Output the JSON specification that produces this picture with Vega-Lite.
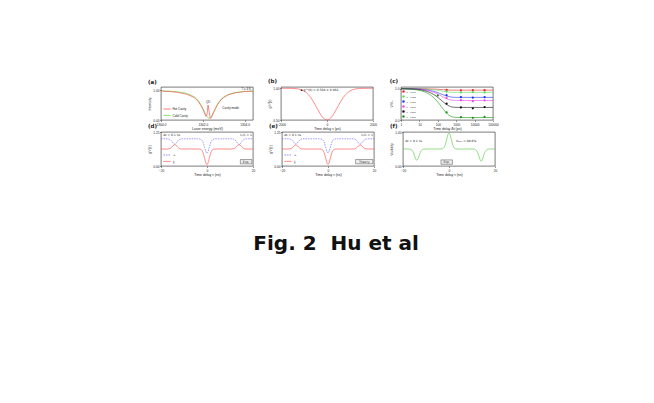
{
"$schema": "https://vega.github.io/schema/vega-lite/v6.json",
"background": "white",
"padding": {"left": 147, "top": 78, "right": 10, "bottom": 10},
"config": {
  "view": {"stroke": "#222", "strokeWidth": 0.6},
  "axis": {"grid": false, "domain": false, "tickSize": 1.5, "tickWidth": 0.5, "tickColor": "#222", "labelFont": "Liberation Sans", "labelFontSize": 3.2, "labelPadding": 0.5, "labelColor": "#222", "titleFont": "Liberation Sans", "titleFontSize": 3.5, "titleFontWeight": "normal", "titlePadding": 0.8, "titleColor": "#222", "labelOverlap": false, "labelFlush": false},
  "legend": {"labelFont": "Liberation Sans", "labelFontSize": 3, "labelColor": "#222", "padding": 0, "rowPadding": 0.4, "labelOffset": 1.5, "symbolStrokeWidth": 0.8, "titleFontSize": 3, "symbolSize": 5}
},
"title": {"text": "Fig. 2\u00a0\u00a0Hu et al", "orient": "bottom", "anchor": "middle", "frame": "bounds", "font": "DejaVu Sans", "fontSize": 20, "fontWeight": "bold", "color": "#111", "offset": 58, "dx": 13},
"datasets": {
  "a": [
    {"x":1300.0,"y":0.975,"s":"Cold Cavity"},{"x":1300.2,"y":0.962,"s":"Cold Cavity"},{"x":1300.4,"y":0.965,"s":"Cold Cavity"},{"x":1300.6,"y":0.948,"s":"Cold Cavity"},{"x":1300.8,"y":0.94,"s":"Cold Cavity"},{"x":1301.0,"y":0.915,"s":"Cold Cavity"},{"x":1301.2,"y":0.892,"s":"Cold Cavity"},{"x":1301.4,"y":0.838,"s":"Cold Cavity"},{"x":1301.6,"y":0.77,"s":"Cold Cavity"},{"x":1301.7,"y":0.705,"s":"Cold Cavity"},{"x":1301.8,"y":0.632,"s":"Cold Cavity"},{"x":1301.9,"y":0.52,"s":"Cold Cavity"},{"x":1302.0,"y":0.395,"s":"Cold Cavity"},{"x":1302.1,"y":0.238,"s":"Cold Cavity"},{"x":1302.2,"y":0.11,"s":"Cold Cavity"},{"x":1302.3,"y":0.05,"s":"Cold Cavity"},{"x":1302.4,"y":0.105,"s":"Cold Cavity"},{"x":1302.5,"y":0.245,"s":"Cold Cavity"},{"x":1302.6,"y":0.388,"s":"Cold Cavity"},{"x":1302.7,"y":0.528,"s":"Cold Cavity"},{"x":1302.8,"y":0.625,"s":"Cold Cavity"},{"x":1302.9,"y":0.712,"s":"Cold Cavity"},{"x":1303.0,"y":0.762,"s":"Cold Cavity"},{"x":1303.2,"y":0.846,"s":"Cold Cavity"},{"x":1303.4,"y":0.885,"s":"Cold Cavity"},{"x":1303.6,"y":0.921,"s":"Cold Cavity"},{"x":1303.8,"y":0.935,"s":"Cold Cavity"},{"x":1304.0,"y":0.953,"s":"Cold Cavity"},{"x":1304.2,"y":0.958,"s":"Cold Cavity"},{"x":1304.4,"y":0.968,"s":"Cold Cavity"},
    {"x":1300.0,"y":0.968,"s":"Hot Cavity"},{"x":1300.2,"y":0.955,"s":"Hot Cavity"},{"x":1300.4,"y":0.95,"s":"Hot Cavity"},{"x":1300.6,"y":0.935,"s":"Hot Cavity"},{"x":1300.8,"y":0.918,"s":"Hot Cavity"},{"x":1301.0,"y":0.895,"s":"Hot Cavity"},{"x":1301.2,"y":0.862,"s":"Hot Cavity"},{"x":1301.4,"y":0.812,"s":"Hot Cavity"},{"x":1301.6,"y":0.742,"s":"Hot Cavity"},{"x":1301.7,"y":0.68,"s":"Hot Cavity"},{"x":1301.8,"y":0.6,"s":"Hot Cavity"},{"x":1301.9,"y":0.49,"s":"Hot Cavity"},{"x":1302.0,"y":0.36,"s":"Hot Cavity"},{"x":1302.1,"y":0.2,"s":"Hot Cavity"},{"x":1302.15,"y":0.12,"s":"Hot Cavity"},{"x":1302.2,"y":0.18,"s":"Hot Cavity"},{"x":1302.25,"y":0.5,"s":"Hot Cavity"},{"x":1302.3,"y":0.3,"s":"Hot Cavity"},{"x":1302.35,"y":0.06,"s":"Hot Cavity"},{"x":1302.4,"y":0.07,"s":"Hot Cavity"},{"x":1302.5,"y":0.22,"s":"Hot Cavity"},{"x":1302.6,"y":0.37,"s":"Hot Cavity"},{"x":1302.7,"y":0.505,"s":"Hot Cavity"},{"x":1302.8,"y":0.61,"s":"Hot Cavity"},{"x":1302.9,"y":0.695,"s":"Hot Cavity"},{"x":1303.0,"y":0.75,"s":"Hot Cavity"},{"x":1303.2,"y":0.835,"s":"Hot Cavity"},{"x":1303.4,"y":0.878,"s":"Hot Cavity"},{"x":1303.6,"y":0.912,"s":"Hot Cavity"},{"x":1303.8,"y":0.93,"s":"Hot Cavity"},{"x":1304.0,"y":0.948,"s":"Hot Cavity"},{"x":1304.2,"y":0.955,"s":"Hot Cavity"},{"x":1304.4,"y":0.962,"s":"Hot Cavity"}
  ],
  "b": [
    {"x":-2000,"y":1.0},{"x":-1800,"y":0.999},{"x":-1600,"y":0.999},{"x":-1400,"y":0.996},{"x":-1200,"y":0.986},{"x":-1000,"y":0.958},{"x":-900,"y":0.932},{"x":-800,"y":0.897},{"x":-700,"y":0.851},{"x":-600,"y":0.794},{"x":-500,"y":0.73},{"x":-400,"y":0.663},{"x":-300,"y":0.6},{"x":-200,"y":0.547},{"x":-100,"y":0.512},{"x":0,"y":0.5},{"x":100,"y":0.512},{"x":200,"y":0.547},{"x":300,"y":0.6},{"x":400,"y":0.663},{"x":500,"y":0.73},{"x":600,"y":0.794},{"x":700,"y":0.851},{"x":800,"y":0.897},{"x":900,"y":0.932},{"x":1000,"y":0.958},{"x":1200,"y":0.986},{"x":1400,"y":0.996},{"x":1600,"y":0.999},{"x":1800,"y":0.999},{"x":2000,"y":1.0}
  ],
  "cfit": [
    {"x":1,"y":1.0,"s":"θ = 0.000"},{"x":4,"y":0.999,"s":"θ = 0.000"},{"x":8,"y":0.998,"s":"θ = 0.000"},{"x":20,"y":0.994,"s":"θ = 0.000"},{"x":40,"y":0.989,"s":"θ = 0.000"},{"x":80,"y":0.98,"s":"θ = 0.000"},{"x":120,"y":0.974,"s":"θ = 0.000"},{"x":200,"y":0.964,"s":"θ = 0.000"},{"x":280,"y":0.959,"s":"θ = 0.000"},{"x":400,"y":0.954,"s":"θ = 0.000"},{"x":600,"y":0.951,"s":"θ = 0.000"},{"x":800,"y":0.95,"s":"θ = 0.000"},{"x":1200,"y":0.95,"s":"θ = 0.000"},{"x":4000,"y":0.95,"s":"θ = 0.000"},{"x":100000,"y":0.95,"s":"θ = 0.000"},
    {"x":1,"y":0.999,"s":"θ = 0.025"},{"x":4,"y":0.997,"s":"θ = 0.025"},{"x":8,"y":0.994,"s":"θ = 0.025"},{"x":20,"y":0.986,"s":"θ = 0.025"},{"x":40,"y":0.973,"s":"θ = 0.025"},{"x":80,"y":0.953,"s":"θ = 0.025"},{"x":120,"y":0.937,"s":"θ = 0.025"},{"x":200,"y":0.914,"s":"θ = 0.025"},{"x":280,"y":0.901,"s":"θ = 0.025"},{"x":400,"y":0.89,"s":"θ = 0.025"},{"x":600,"y":0.883,"s":"θ = 0.025"},{"x":800,"y":0.881,"s":"θ = 0.025"},{"x":1200,"y":0.88,"s":"θ = 0.025"},{"x":4000,"y":0.88,"s":"θ = 0.025"},{"x":100000,"y":0.88,"s":"θ = 0.025"},
    {"x":1,"y":0.998,"s":"θ = 0.050"},{"x":4,"y":0.993,"s":"θ = 0.050"},{"x":8,"y":0.986,"s":"θ = 0.050"},{"x":20,"y":0.967,"s":"θ = 0.050"},{"x":40,"y":0.938,"s":"θ = 0.050"},{"x":80,"y":0.89,"s":"θ = 0.050"},{"x":120,"y":0.852,"s":"θ = 0.050"},{"x":200,"y":0.8,"s":"θ = 0.050"},{"x":280,"y":0.769,"s":"θ = 0.050"},{"x":400,"y":0.743,"s":"θ = 0.050"},{"x":600,"y":0.726,"s":"θ = 0.050"},{"x":800,"y":0.722,"s":"θ = 0.050"},{"x":1200,"y":0.72,"s":"θ = 0.050"},{"x":4000,"y":0.72,"s":"θ = 0.050"},{"x":100000,"y":0.72,"s":"θ = 0.050"},
    {"x":1,"y":0.998,"s":"θ = 0.100"},{"x":4,"y":0.991,"s":"θ = 0.100"},{"x":8,"y":0.981,"s":"θ = 0.100"},{"x":20,"y":0.955,"s":"θ = 0.100"},{"x":40,"y":0.916,"s":"θ = 0.100"},{"x":80,"y":0.85,"s":"θ = 0.100"},{"x":120,"y":0.799,"s":"θ = 0.100"},{"x":200,"y":0.729,"s":"θ = 0.100"},{"x":280,"y":0.686,"s":"θ = 0.100"},{"x":400,"y":0.651,"s":"θ = 0.100"},{"x":600,"y":0.629,"s":"θ = 0.100"},{"x":800,"y":0.623,"s":"θ = 0.100"},{"x":1200,"y":0.62,"s":"θ = 0.100"},{"x":4000,"y":0.62,"s":"θ = 0.100"},{"x":100000,"y":0.62,"s":"θ = 0.100"},
    {"x":1,"y":0.996,"s":"θ = 0.200"},{"x":4,"y":0.985,"s":"θ = 0.200"},{"x":8,"y":0.971,"s":"θ = 0.200"},{"x":20,"y":0.929,"s":"θ = 0.200"},{"x":40,"y":0.867,"s":"θ = 0.200"},{"x":80,"y":0.764,"s":"θ = 0.200"},{"x":120,"y":0.683,"s":"θ = 0.200"},{"x":200,"y":0.572,"s":"θ = 0.200"},{"x":280,"y":0.504,"s":"θ = 0.200"},{"x":400,"y":0.449,"s":"θ = 0.200"},{"x":600,"y":0.414,"s":"θ = 0.200"},{"x":800,"y":0.404,"s":"θ = 0.200"},{"x":1200,"y":0.401,"s":"θ = 0.200"},{"x":4000,"y":0.4,"s":"θ = 0.200"},{"x":100000,"y":0.4,"s":"θ = 0.200"},
    {"x":1,"y":0.994,"s":"θ = 0.500"},{"x":4,"y":0.977,"s":"θ = 0.500"},{"x":8,"y":0.955,"s":"θ = 0.500"},{"x":20,"y":0.892,"s":"θ = 0.500"},{"x":40,"y":0.797,"s":"θ = 0.500"},{"x":80,"y":0.638,"s":"θ = 0.500"},{"x":120,"y":0.514,"s":"θ = 0.500"},{"x":200,"y":0.344,"s":"θ = 0.500"},{"x":280,"y":0.24,"s":"θ = 0.500"},{"x":400,"y":0.155,"s":"θ = 0.500"},{"x":600,"y":0.101,"s":"θ = 0.500"},{"x":800,"y":0.086,"s":"θ = 0.500"},{"x":1200,"y":0.081,"s":"θ = 0.500"},{"x":4000,"y":0.08,"s":"θ = 0.500"},{"x":100000,"y":0.08,"s":"θ = 0.500"}
  ],
  "cpts": [
    {"x":300,"y":0.955,"s":"θ = 0.000"},{"x":1800,"y":0.945,"s":"θ = 0.000"},{"x":8000,"y":0.952,"s":"θ = 0.000"},{"x":35000,"y":0.948,"s":"θ = 0.000"},
    {"x":300,"y":0.905,"s":"θ = 0.025"},{"x":1800,"y":0.875,"s":"θ = 0.025"},{"x":8000,"y":0.885,"s":"θ = 0.025"},{"x":35000,"y":0.878,"s":"θ = 0.025"},
    {"x":300,"y":0.79,"s":"θ = 0.050"},{"x":1800,"y":0.725,"s":"θ = 0.050"},{"x":8000,"y":0.71,"s":"θ = 0.050"},{"x":35000,"y":0.725,"s":"θ = 0.050"},
    {"x":300,"y":0.7,"s":"θ = 0.100"},{"x":1800,"y":0.63,"s":"θ = 0.100"},{"x":8000,"y":0.6,"s":"θ = 0.100"},{"x":35000,"y":0.625,"s":"θ = 0.100"},
    {"x":300,"y":0.52,"s":"θ = 0.200"},{"x":1800,"y":0.4,"s":"θ = 0.200"},{"x":8000,"y":0.37,"s":"θ = 0.200"},{"x":35000,"y":0.41,"s":"θ = 0.200"},
    {"x":100,"y":0.78,"s":"θ = 0.500"},{"x":300,"y":0.24,"s":"θ = 0.500"},{"x":1800,"y":0.09,"s":"θ = 0.500"},{"x":8000,"y":0.07,"s":"θ = 0.500"},{"x":35000,"y":0.1,"s":"θ = 0.500"}
  ],
  "def": [
    {"x":-20,"dp":0.998,"dr":0.628,"tp":1.0,"tr":0.625,"v":0.5},
    {"x":-18,"dp":1.004,"dr":0.622,"tp":1.0,"tr":0.625,"v":0.502},
    {"x":-17,"dp":0.995,"dr":0.626,"tp":0.998,"tr":0.627,"v":0.496},
    {"x":-16.5,"dp":0.99,"dr":0.635,"tp":0.992,"tr":0.632,"v":0.486},
    {"x":-16,"dp":0.97,"dr":0.648,"tp":0.974,"tr":0.645,"v":0.456},
    {"x":-15.5,"dp":0.93,"dr":0.68,"tp":0.938,"tr":0.674,"v":0.395},
    {"x":-15,"dp":0.875,"dr":0.725,"tp":0.885,"tr":0.716,"v":0.302},
    {"x":-14.5,"dp":0.82,"dr":0.765,"tp":0.832,"tr":0.757,"v":0.21},
    {"x":-14,"dp":0.8,"dr":0.782,"tp":0.81,"tr":0.775,"v":0.17},
    {"x":-13.5,"dp":0.825,"dr":0.76,"tp":0.832,"tr":0.757,"v":0.212},
    {"x":-13,"dp":0.88,"dr":0.72,"tp":0.885,"tr":0.716,"v":0.3},
    {"x":-12.5,"dp":0.935,"dr":0.676,"tp":0.938,"tr":0.674,"v":0.392},
    {"x":-12,"dp":0.97,"dr":0.646,"tp":0.974,"tr":0.645,"v":0.455},
    {"x":-11.5,"dp":0.99,"dr":0.63,"tp":0.992,"tr":0.632,"v":0.485},
    {"x":-11,"dp":1.002,"dr":0.624,"tp":0.998,"tr":0.627,"v":0.497},
    {"x":-9,"dp":0.997,"dr":0.627,"tp":1.0,"tr":0.625,"v":0.501},
    {"x":-6,"dp":1.003,"dr":0.623,"tp":1.0,"tr":0.625,"v":0.499},
    {"x":-4,"dp":0.998,"dr":0.626,"tp":1.0,"tr":0.625,"v":0.502},
    {"x":-3,"dp":0.99,"dr":0.617,"tp":0.994,"tr":0.619,"v":0.505},
    {"x":-2.5,"dp":0.972,"dr":0.596,"tp":0.977,"tr":0.6,"v":0.521},
    {"x":-2,"dp":0.92,"dr":0.54,"tp":0.93,"tr":0.549,"v":0.563},
    {"x":-1.5,"dp":0.82,"dr":0.43,"tp":0.831,"tr":0.441,"v":0.653},
    {"x":-1,"dp":0.67,"dr":0.27,"tp":0.684,"tr":0.282,"v":0.785},
    {"x":-0.5,"dp":0.53,"dr":0.12,"tp":0.541,"tr":0.127,"v":0.915},
    {"x":0,"dp":0.47,"dr":0.05,"tp":0.48,"tr":0.06,"v":0.97},
    {"x":0.5,"dp":0.535,"dr":0.125,"tp":0.541,"tr":0.127,"v":0.912},
    {"x":1,"dp":0.68,"dr":0.29,"tp":0.684,"tr":0.282,"v":0.78},
    {"x":1.5,"dp":0.825,"dr":0.445,"tp":0.831,"tr":0.441,"v":0.65},
    {"x":2,"dp":0.925,"dr":0.552,"tp":0.93,"tr":0.549,"v":0.56},
    {"x":2.5,"dp":0.975,"dr":0.603,"tp":0.977,"tr":0.6,"v":0.52},
    {"x":3,"dp":0.992,"dr":0.62,"tp":0.994,"tr":0.619,"v":0.505},
    {"x":4,"dp":1.002,"dr":0.624,"tp":1.0,"tr":0.625,"v":0.5},
    {"x":6,"dp":0.997,"dr":0.627,"tp":1.0,"tr":0.625,"v":0.498},
    {"x":9,"dp":1.003,"dr":0.623,"tp":1.0,"tr":0.625,"v":0.502},
    {"x":11,"dp":0.996,"dr":0.628,"tp":0.998,"tr":0.627,"v":0.496},
    {"x":11.5,"dp":0.99,"dr":0.636,"tp":0.992,"tr":0.632,"v":0.483},
    {"x":12,"dp":0.968,"dr":0.65,"tp":0.974,"tr":0.645,"v":0.45},
    {"x":12.5,"dp":0.93,"dr":0.68,"tp":0.938,"tr":0.674,"v":0.385},
    {"x":13,"dp":0.87,"dr":0.722,"tp":0.885,"tr":0.716,"v":0.29},
    {"x":13.5,"dp":0.815,"dr":0.765,"tp":0.832,"tr":0.757,"v":0.19},
    {"x":14,"dp":0.79,"dr":0.785,"tp":0.81,"tr":0.775,"v":0.14},
    {"x":14.5,"dp":0.82,"dr":0.762,"tp":0.832,"tr":0.757,"v":0.19},
    {"x":15,"dp":0.878,"dr":0.718,"tp":0.885,"tr":0.716,"v":0.29},
    {"x":15.5,"dp":0.935,"dr":0.676,"tp":0.938,"tr":0.674,"v":0.385},
    {"x":16,"dp":0.972,"dr":0.646,"tp":0.974,"tr":0.645,"v":0.45},
    {"x":16.5,"dp":0.99,"dr":0.631,"tp":0.992,"tr":0.632,"v":0.483},
    {"x":17,"dp":0.998,"dr":0.626,"tp":0.998,"tr":0.627,"v":0.496},
    {"x":18,"dp":1.002,"dr":0.624,"tp":1.0,"tr":0.625,"v":0.5},
    {"x":20,"dp":0.999,"dr":0.627,"tp":1.0,"tr":0.625,"v":0.5}
  ]
},
"spacing": -7,
"resolve": {"scale": {"color": "independent", "shape": "independent", "strokeDash": "independent"}, "legend": {"color": "independent", "shape": "independent", "strokeDash": "independent"}},
"vconcat": [
  {"hconcat": [
    {"width": 92, "height": 33,
     "title": {"text": "(a)", "anchor": "start", "frame": "bounds", "font": "DejaVu Sans", "fontSize": 5.5, "fontWeight": "bold", "offset": 2, "color": "#222"},
     "layer": [
      {"data": {"name": "a"}, "transform": [{"filter": "datum.s == 'Cold Cavity'"}], "mark": {"type": "line", "strokeWidth": 0.7},
       "encoding": {
        "x": {"field": "x", "type": "quantitative", "scale": {"domain": [1300, 1304.4], "nice": false, "zero": false}, "axis": {"title": "Laser energy (meV)", "values": [1300, 1302, 1304], "format": ".1f", "labelOverlap": false}},
        "y": {"field": "y", "type": "quantitative", "scale": {"domain": [0, 1.1], "nice": false}, "axis": {"title": "Intensity", "values": [0, 0.2, 0.4, 0.6, 0.8, 1.0], "format": ".2f", "labelOverlap": false}},
        "color": {"field": "s", "type": "nominal", "scale": {"domain": ["Hot Cavity", "Cold Cavity"], "range": ["#ff5555", "#66dd44"]}, "legend": {"orient": "bottom-left", "title": null, "symbolType": "stroke", "symbolSize": 50, "offset": 2}}
       }},
      {"data": {"name": "a"}, "transform": [{"filter": "datum.s == 'Hot Cavity'"}], "mark": {"type": "line", "strokeWidth": 0.7},
       "encoding": {
        "x": {"field": "x", "type": "quantitative"},
        "y": {"field": "y", "type": "quantitative"},
        "color": {"field": "s", "type": "nominal"}
       }},
      {"data": {"values": [{}]}, "mark": {"type": "text", "fontSize": 3, "font": "Liberation Sans", "align": "right", "color": "#222"}, "encoding": {"x": {"datum": 1304.3}, "y": {"datum": 1.03}, "text": {"value": "T = 4 K"}}},
      {"data": {"values": [{}]}, "mark": {"type": "text", "fontSize": 2.8, "font": "Liberation Sans", "align": "center", "color": "#222"}, "encoding": {"x": {"datum": 1302.25}, "y": {"datum": 0.62}, "text": {"value": "QD"}}},
      {"data": {"values": [{}]}, "mark": {"type": "text", "fontSize": 3, "font": "Liberation Sans", "align": "left", "color": "#222"}, "encoding": {"x": {"datum": 1302.75}, "y": {"datum": 0.4}, "text": {"value": "← Cavity mode"}}}
     ]},
    {"width": 92, "height": 33,
     "title": {"text": "(b)", "anchor": "start", "frame": "bounds", "font": "DejaVu Sans", "fontSize": 5.5, "fontWeight": "bold", "offset": 2, "color": "#222"},
     "layer": [
      {"data": {"name": "b"}, "mark": {"type": "line", "strokeWidth": 0.7, "color": "#ff5a5a", "interpolate": "monotone"},
       "encoding": {
        "x": {"field": "x", "type": "quantitative", "scale": {"domain": [-2000, 2000], "nice": false}, "axis": {"title": "Time delay τ (ps)", "values": [-2000, -1000, 0, 1000, 2000], "format": "d", "labelOverlap": false}},
        "y": {"field": "y", "type": "quantitative", "scale": {"domain": [0.5, 1.02], "nice": false, "zero": false}, "axis": {"title": "g⁽²⁾(τ)", "values": [0.5, 0.6, 0.7, 0.8, 0.9, 1.0], "format": ".2f", "labelOverlap": false}}
       }},
      {"data": {"values": [{}]}, "mark": {"type": "text", "fontSize": 3, "font": "DejaVu Sans", "align": "left", "color": "#222"}, "encoding": {"x": {"datum": -1150}, "y": {"datum": 0.975}, "text": {"value": "▪ g⁽²⁾(0) = 0.508 ± 0.002"}}}
     ]},
    {"width": 92, "height": 33,
     "title": {"text": "(c)", "anchor": "start", "frame": "bounds", "font": "DejaVu Sans", "fontSize": 5.5, "fontWeight": "bold", "offset": 2, "color": "#222"},
     "layer": [
      {"data": {"name": "cpts"}, "mark": {"type": "point", "size": 5, "filled": true, "opacity": 1},
       "encoding": {
        "x": {"field": "x", "type": "quantitative", "scale": {"type": "log", "domain": [1, 100000], "nice": false}, "axis": {"title": "Time delay Δt (ps)", "values": [1, 10, 100, 1000, 10000, 100000], "format": "d", "labelOverlap": false}},
        "y": {"field": "y", "type": "quantitative", "scale": {"domain": [0, 1.05], "nice": false}, "axis": {"title": "V/V₀", "values": [0, 0.2, 0.4, 0.6, 0.8, 1.0], "format": ".1f", "labelOverlap": false}},
        "color": {"field": "s", "type": "nominal", "scale": {"domain": ["θ = 0.000", "θ = 0.025", "θ = 0.050", "θ = 0.100", "θ = 0.200", "θ = 0.500"], "range": ["#ee2222", "#55dd55", "#2233ee", "#ee44ee", "#111111", "#119911"]}, "legend": {"orient": "bottom-left", "title": null, "offset": 1, "symbolSize": 5, "labelFontSize": 2.2, "rowPadding": 0, "symbolType": "circle", "symbolStrokeWidth": 0.4}}
       }},
      {"data": {"name": "cfit"}, "mark": {"type": "line", "strokeWidth": 0.6, "interpolate": "monotone"},
       "encoding": {
        "x": {"field": "x", "type": "quantitative"},
        "y": {"field": "y", "type": "quantitative"},
        "color": {"field": "s", "type": "nominal", "legend": {"orient": "bottom-left", "title": null, "offset": 1, "symbolSize": 5, "labelFontSize": 2.2, "rowPadding": 0, "symbolType": "circle", "symbolStrokeWidth": 0.4}}
       }}
     ]}
  ], "spacing": 12, "resolve": {"scale": {"color": "independent", "shape": "independent", "strokeDash": "independent"}, "legend": {"color": "independent", "shape": "independent", "strokeDash": "independent"}}},
  {"hconcat": [
    {"width": 92, "height": 34,
     "title": {"text": "(d)", "anchor": "start", "frame": "bounds", "font": "DejaVu Sans", "fontSize": 5.5, "fontWeight": "bold", "offset": 0.5, "color": "#222"},
     "layer": [
      {"data": {"name": "def"}, "transform": [{"fold": ["dp", "dr"], "as": ["s", "y"]}], "mark": {"type": "line", "strokeWidth": 0.7, "interpolate": "monotone"},
       "encoding": {
        "x": {"field": "x", "type": "quantitative", "scale": {"domain": [-20, 20], "nice": false}, "axis": {"title": "Time delay τ (ns)", "values": [-20, -10, 0, 10, 20], "labelOverlap": false}},
        "y": {"field": "y", "type": "quantitative", "scale": {"domain": [0, 1.25], "nice": false}, "axis": {"title": "g⁽²⁾(τ)", "values": [0, 0.25, 0.5, 0.75, 1.0, 1.25], "format": ".2f", "labelOverlap": false}},
        "color": {"field": "s", "type": "nominal", "scale": {"domain": ["dp", "dr"], "range": ["#6f6fff", "#ff5555"]}, "legend": {"orient": "bottom-left", "title": null, "symbolType": "stroke", "symbolSize": 50, "offset": 2, "labelExpr": "datum.label == 'dp' ? '⊥' : '∥'"}},
        "strokeDash": {"field": "s", "type": "nominal", "scale": {"domain": ["dp", "dr"], "range": [[1.5, 1], [1, 0]]}, "legend": {"orient": "bottom-left", "title": null, "symbolType": "stroke", "symbolSize": 50, "offset": 2, "labelExpr": "datum.label == 'dp' ? '⊥' : '∥'"}}
       }},
      {"data": {"values": [{}]}, "mark": {"type": "text", "fontSize": 3, "font": "DejaVu Sans", "align": "left", "color": "#222"}, "encoding": {"x": {"datum": -19}, "y": {"datum": 1.14}, "text": {"value": "Δt = 0.1 ns"}}},
      {"data": {"values": [{}]}, "mark": {"type": "text", "fontSize": 3, "font": "DejaVu Sans", "align": "right", "color": "#222"}, "encoding": {"x": {"datum": 19.5}, "y": {"datum": 1.14}, "text": {"value": "I₁/I₂ = 1"}}},
      {"data": {"values": [{}]}, "mark": {"type": "rect", "fill": "#eeeeee", "stroke": "#222", "strokeWidth": 0.4}, "encoding": {"x": {"datum": 14.5}, "x2": {"datum": 19.5}, "y": {"datum": 0.08}, "y2": {"datum": 0.24}}},
      {"data": {"values": [{}]}, "mark": {"type": "text", "fontSize": 3, "font": "DejaVu Sans", "align": "center", "color": "#222"}, "encoding": {"x": {"datum": 17}, "y": {"datum": 0.16}, "text": {"value": "Exp."}}}
     ]},
    {"width": 92, "height": 34,
     "title": {"text": "(e)", "anchor": "start", "frame": "bounds", "font": "DejaVu Sans", "fontSize": 5.5, "fontWeight": "bold", "offset": 0.5, "color": "#222"},
     "layer": [
      {"data": {"name": "def"}, "transform": [{"fold": ["tp", "tr"], "as": ["s", "y"]}], "mark": {"type": "line", "strokeWidth": 0.7, "interpolate": "monotone"},
       "encoding": {
        "x": {"field": "x", "type": "quantitative", "scale": {"domain": [-20, 20], "nice": false}, "axis": {"title": "Time delay τ (ns)", "values": [-20, -10, 0, 10, 20], "labelOverlap": false}},
        "y": {"field": "y", "type": "quantitative", "scale": {"domain": [0, 1.25], "nice": false}, "axis": {"title": "g⁽²⁾(τ)", "values": [0, 0.25, 0.5, 0.75, 1.0, 1.25], "format": ".2f", "labelOverlap": false}},
        "color": {"field": "s", "type": "nominal", "scale": {"domain": ["tp", "tr"], "range": ["#6f6fff", "#ff5555"]}, "legend": {"orient": "bottom-left", "title": null, "symbolType": "stroke", "symbolSize": 50, "offset": 2, "labelExpr": "datum.label == 'tp' ? '⊥' : '∥'"}},
        "strokeDash": {"field": "s", "type": "nominal", "scale": {"domain": ["tp", "tr"], "range": [[1.5, 1], [1, 0]]}, "legend": {"orient": "bottom-left", "title": null, "symbolType": "stroke", "symbolSize": 50, "offset": 2, "labelExpr": "datum.label == 'tp' ? '⊥' : '∥'"}}
       }},
      {"data": {"values": [{}]}, "mark": {"type": "text", "fontSize": 3, "font": "DejaVu Sans", "align": "left", "color": "#222"}, "encoding": {"x": {"datum": -19}, "y": {"datum": 1.14}, "text": {"value": "Δt = 0.1 ns"}}},
      {"data": {"values": [{}]}, "mark": {"type": "text", "fontSize": 3, "font": "DejaVu Sans", "align": "right", "color": "#222"}, "encoding": {"x": {"datum": 19.5}, "y": {"datum": 1.14}, "text": {"value": "I₁/I₂ = 1"}}},
      {"data": {"values": [{}]}, "mark": {"type": "rect", "fill": "#eeeeee", "stroke": "#222", "strokeWidth": 0.4}, "encoding": {"x": {"datum": 12}, "x2": {"datum": 19.5}, "y": {"datum": 0.08}, "y2": {"datum": 0.24}}},
      {"data": {"values": [{}]}, "mark": {"type": "text", "fontSize": 3, "font": "DejaVu Sans", "align": "center", "color": "#222"}, "encoding": {"x": {"datum": 15.75}, "y": {"datum": 0.16}, "text": {"value": "Theory"}}}
     ]},
    {"width": 92, "height": 34,
     "title": {"text": "(f)", "anchor": "start", "frame": "bounds", "font": "DejaVu Sans", "fontSize": 5.5, "fontWeight": "bold", "offset": 0.5, "color": "#222"},
     "layer": [
      {"data": {"name": "def"}, "mark": {"type": "line", "strokeWidth": 0.7, "color": "#66cc55", "interpolate": "monotone"},
       "encoding": {
        "x": {"field": "x", "type": "quantitative", "scale": {"domain": [-20, 20], "nice": false}, "axis": {"title": "Time delay τ (ns)", "values": [-20, -10, 0, 10, 20], "labelOverlap": false}},
        "y": {"field": "v", "type": "quantitative", "scale": {"domain": [0, 1.0], "nice": false}, "axis": {"title": "Visibility", "values": [0, 0.2, 0.4, 0.6, 0.8, 1.0], "format": ".2f", "labelOverlap": false}}
       }},
      {"data": {"values": [{}]}, "mark": {"type": "text", "fontSize": 3, "font": "DejaVu Sans", "align": "left", "color": "#222"}, "encoding": {"x": {"datum": -19}, "y": {"datum": 0.75}, "text": {"value": "Δt = 0.1 ns"}}},
      {"data": {"values": [{}]}, "mark": {"type": "text", "fontSize": 3, "font": "DejaVu Sans", "align": "left", "color": "#222"}, "encoding": {"x": {"datum": 3}, "y": {"datum": 0.75}, "text": {"value": "Vₘₐₓ = 88.6%"}}},
      {"data": {"values": [{}]}, "mark": {"type": "rect", "fill": "#eeeeee", "stroke": "#222", "strokeWidth": 0.4}, "encoding": {"x": {"datum": -3.5}, "x2": {"datum": 1.5}, "y": {"datum": 0.05}, "y2": {"datum": 0.18}}},
      {"data": {"values": [{}]}, "mark": {"type": "text", "fontSize": 3, "font": "DejaVu Sans", "align": "center", "color": "#222"}, "encoding": {"x": {"datum": -1}, "y": {"datum": 0.115}, "text": {"value": "Exp."}}}
     ]}
  ], "spacing": 12, "resolve": {"scale": {"color": "independent", "shape": "independent", "strokeDash": "independent"}, "legend": {"color": "independent", "shape": "independent", "strokeDash": "independent"}}}
]
}
